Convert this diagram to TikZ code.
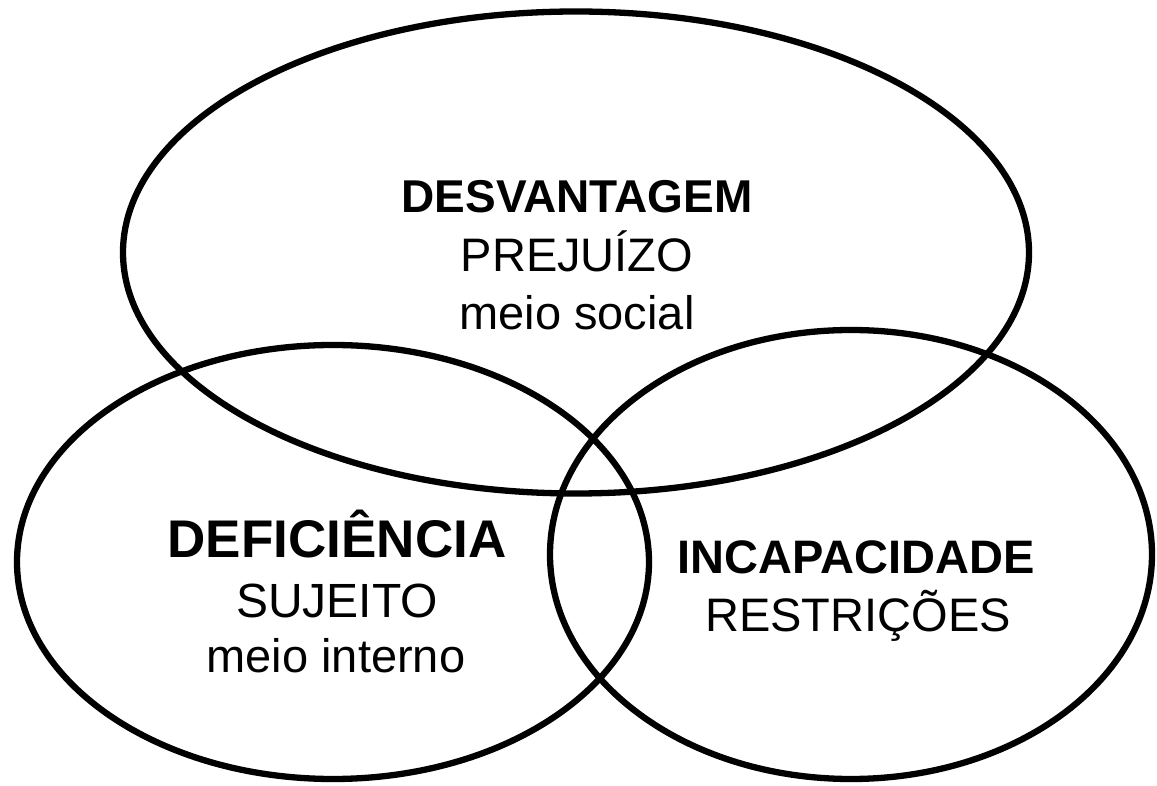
\documentclass[tikz,border=0pt]{standalone}
\usepackage{fontspec}
\setmainfont{Liberation Sans}
\begin{document}
\begin{tikzpicture}[x=1pt,y=1pt,
  ring/.style={draw=black,line width=6.3pt},
  lbl/.style={anchor=base,inner sep=0pt,outer sep=0pt},
]
\useasboundingbox (0,0) rectangle (1157,785);
% ellipses
\draw[ring] (576,532.5) ellipse [x radius=453, y radius=241];
\draw[ring] (333,223) ellipse [x radius=316, y radius=217];
\draw[ring] (851,230.5) ellipse [x radius=301, y radius=224.5];
% top texts
\node[lbl] (t1) at (577,572) {\fontsize{46}{50}\selectfont\bfseries DESVANTAGEM};
\node[lbl] (t2) at (577,513) {\fontsize{47}{50}\selectfont PREJUÍZO};
\node[lbl] (t3) at (577,455) {\fontsize{47}{50}\selectfont meio social};
% left texts
\node[lbl] (l1) at (337,227) {\fontsize{53}{58}\selectfont\bfseries DEFICIÊNCIA};
\node[lbl] (l2) at (337,167) {\fontsize{48}{52}\selectfont SUJEITO};
\node[lbl] (l3) at (336,112) {\fontsize{47}{52}\selectfont meio interno};
% right texts
\node[lbl] (r1) at (856,211) {\fontsize{47}{50}\selectfont\bfseries INCAPACIDADE};
\node[lbl] (r2) at (858,153) {\fontsize{47}{50}\selectfont RESTRIÇÕES};
\end{tikzpicture}
\end{document}
